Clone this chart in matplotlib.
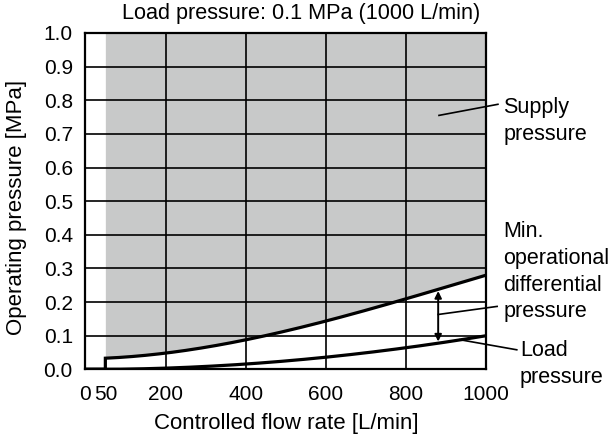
import matplotlib
matplotlib.use("Agg")
import matplotlib.pyplot as plt
import numpy as np

plt.rcParams['font.family'] = ['Liberation Sans', 'DejaVu Sans']

# Characteristic curves (flow rate in L/min, pressure in MPa)
flow = [0, 50, 50, 200, 400, 600, 800, 1000]
supply_pressure = [0.0, 0.0, 0.033, 0.048, 0.088, 0.143, 0.210, 0.280]
load_flow = [0, 50, 200, 400, 600, 800, 1000]
load_pressure = [0.0, 0.0, 0.003, 0.016, 0.036, 0.064, 0.100]

x_ticks = [0, 50, 200, 400, 600, 800, 1000]
x_ticklabels = ["0", "50", "200", "400", "600", "800", "1000"]
y_ticks = [round(v * 0.1, 1) for v in range(11)]

title = "Load pressure: 0.1 MPa (1000 L/min)"
xlabel = "Controlled flow rate [L/min]"
ylabel = "Operating pressure [MPa]"

W, H = 611, 446
fig = plt.figure(figsize=(W / 100, H / 100), dpi=100)
ax = fig.add_axes([85.3 / W, 1 - 369.3 / H, (486.3 - 85.3) / W, (369.3 - 33) / H])

# smooth the curves between the read points
def smooth(xs, ys, n=200):
    xs = np.asarray(xs, float); ys = np.asarray(ys, float)
    xx = np.linspace(xs[0], xs[-1], n)
    coef = np.polyfit(xs, ys, 3)
    return xx, np.polyval(coef, xx)

sx, sy = smooth(flow[2:], supply_pressure[2:])
lx, ly = smooth(load_flow[1:], load_pressure[1:])
ly = np.maximum(ly, 0)

gray = "#c8c9c9"
ax.fill_between(sx, sy, 1.0, color=gray, zorder=0, lw=0)

ax.plot(np.concatenate([flow[:2], sx]), np.concatenate([supply_pressure[:2], sy]),
        color="black", lw=2.3, zorder=3, solid_joinstyle="miter")
ax.plot(np.concatenate([load_flow[:1], lx]), np.concatenate([load_pressure[:1], ly]),
        color="black", lw=2.3, zorder=3)

ax.set_xlim(0, 1000)
ax.set_ylim(0, 1.0)
ax.set_xticks(x_ticks)
ax.set_xticklabels(x_ticklabels)
ax.set_yticks(y_ticks)
ax.set_yticklabels([f"{v:.1f}" for v in y_ticks])
for v in [200, 400, 600, 800]:
    ax.axvline(v, color="black", lw=1.2, zorder=2)
for v in y_ticks[1:-1]:
    ax.axhline(v, color="black", lw=1.2, zorder=2)
ax.tick_params(length=0, labelsize=15)
ax.tick_params(axis="x", pad=11)
ax.tick_params(axis="y", pad=9)
for s in ax.spines.values():
    s.set_linewidth(1.6)
    s.set_zorder(4)

# Differential pressure arrow
xa = 880
ya_top = np.interp(xa, sx, sy)
ya_bot = np.interp(xa, lx, ly)
ax.annotate("", xy=(xa, ya_top - 0.005), xytext=(xa, ya_bot + 0.005),
            arrowprops=dict(arrowstyle="<|-|>", color="black", lw=1.4,
                            mutation_scale=10, shrinkA=0, shrinkB=0),
            zorder=5)

# Callout labels with leader lines
txt = dict(fontsize=15.5, va="center", ha="left", linespacing=1.35)
leader = dict(color="black", lw=1.2, clip_on=False, zorder=5)

ax.text(1042, 0.739, "Supply\npressure", **txt)
ax.plot([882, 1029], [0.755, 0.788], **leader)

ax.text(1042, 0.290, "Min.\noperational\ndifferential\npressure", **txt)
ax.plot([xa, 1027], [0.163, 0.187], **leader)

ax.text(1084, 0.015, "Load\npressure", **txt)
ax.plot([934, 1076], [0.088, 0.058], **leader)

fig.text(301 / W, 1 - 14 / H, title, fontsize=15.6, ha="center", va="center")
fig.text(286 / W, 1 - 423 / H, xlabel, fontsize=16, ha="center", va="center")
fig.text(17 / W, 1 - 207 / H, ylabel, fontsize=16, ha="center", va="center", rotation=90)

fig.savefig("out.png", dpi=100)
